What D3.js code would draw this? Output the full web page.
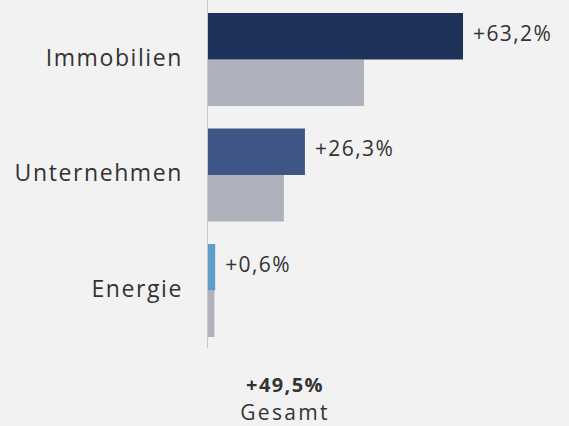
<!DOCTYPE html>
<html>
<head>
<meta charset="utf-8">
<script src="https://cdn.jsdelivr.net/npm/d3@7"></script>
<style>
  html, body { margin: 0; padding: 0; background: #f2f2f2; }
  svg text { font-family: "Open Sans", sans-serif; fill: #333; }
</style>
</head>
<body>
<svg id="chart" width="569" height="426"></svg>
<script>
const categories = ['Immobilien', 'Unternehmen', 'Energie'];
const currentValues = [63.2, 24.1, 1.9];
const previousValues = [38.7, 18.9, 1.7];
const valueLabels = ['+63,2%', '+26,3%', '+0,6%'];
const barColors = ['#1e3158', '#3f5686', '#5e9dc6'];
const totalLabel = '+49,5%';
const totalCaption = 'Gesamt';

const svg = d3.select('#chart');
const x0 = 207.5;

const x = d3.scaleLinear().domain([0, 63.2]).range([x0, 463]);
const y = d3.scaleBand().domain(categories).range([13, 337]).paddingInner(0.195).paddingOuter(0);
const half = y.bandwidth() / 2;

const rows = categories.map((c, i) => ({
  cat: c, cur: currentValues[i], prev: previousValues[i], label: valueLabels[i], color: barColors[i]
}));

// previous period (gray)
svg.selectAll('.bar-prev')
  .data(rows)
  .join('rect')
  .attr('class', 'bar-prev')
  .attr('x', x0)
  .attr('y', d => y(d.cat) + half)
  .attr('width', d => x(d.prev) - x0)
  .attr('height', half)
  .attr('fill', '#afb1bd');

// current period
svg.selectAll('.bar-cur')
  .data(rows)
  .join('rect')
  .attr('class', 'bar-cur')
  .attr('x', x0)
  .attr('y', d => y(d.cat))
  .attr('width', d => x(d.cur) - x0)
  .attr('height', half)
  .attr('fill', d => d.color);

svg.append('line')
  .attr('x1', x0).attr('x2', x0)
  .attr('y1', 0).attr('y2', 348)
  .attr('stroke', '#c8c8c8')
  .attr('stroke-width', 1);

svg.selectAll('.val')
  .data(rows)
  .join('text')
  .attr('class', 'val')
  .attr('x', d => x(d.cur) + 10)
  .attr('y', d => y(d.cat) + half / 2 - 3)
  .attr('dy', '0.35em')
  .attr('font-size', 21)
  .attr('letter-spacing', 1.4)
  .text(d => d.label);

svg.selectAll('.cat')
  .data(rows)
  .join('text')
  .attr('class', 'cat')
  .attr('x', 183)
  .attr('y', d => y(d.cat) + half - 2)
  .attr('dy', '0.35em')
  .attr('text-anchor', 'end')
  .attr('font-size', 23)
  .attr('letter-spacing', 1.6)
  .text(d => d.cat);

svg.append('text')
  .attr('x', 285).attr('y', 391.5)
  .attr('text-anchor', 'middle')
  .attr('font-size', 20)
  .attr('font-weight', 'bold')
  .attr('letter-spacing', 1.4)
  .text(totalLabel);

svg.append('text')
  .attr('x', 285).attr('y', 419.5)
  .attr('text-anchor', 'middle')
  .attr('font-size', 21)
  .attr('letter-spacing', 2.3)
  .text(totalCaption);
</script>
</body>
</html>
